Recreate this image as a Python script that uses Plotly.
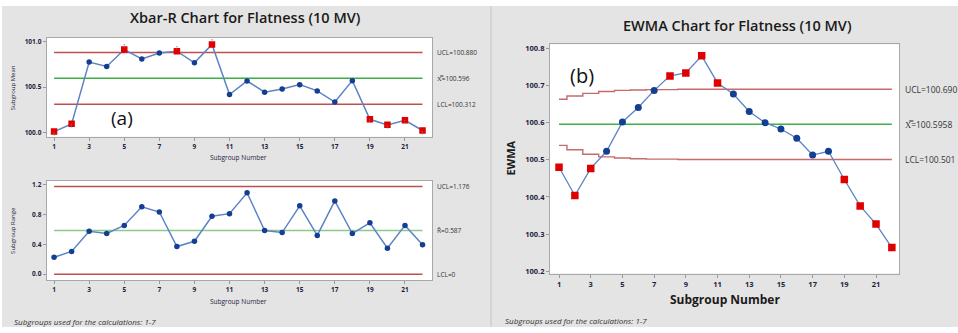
import plotly.graph_objects as go

# ---------------- data ----------------
subgroups = list(range(1, 23))
xbar = [100.01, 100.095, 100.775, 100.727, 100.913, 100.81, 100.876, 100.895, 100.767, 100.97,
        100.418, 100.567, 100.444, 100.48, 100.527, 100.458, 100.335, 100.571, 100.145, 100.084,
        100.135, 100.022]
xbar_ucl, xbar_cl, xbar_lcl = 100.880, 100.596, 100.312
xbar_flag = [1, 2, 5, 8, 10, 19, 20, 21, 22]

rng = [0.227, 0.305, 0.576, 0.545, 0.654, 0.903, 0.833, 0.371, 0.441, 0.777, 0.811, 1.091,
       0.585, 0.558, 0.916, 0.519, 0.982, 0.545, 0.689, 0.349, 0.654, 0.393]
r_ucl, r_cl, r_lcl = 1.176, 0.587, 0.0

ewma = [100.48, 100.404, 100.477, 100.523, 100.602, 100.641, 100.687, 100.726, 100.734, 100.780,
        100.707, 100.677, 100.630, 100.600, 100.583, 100.558, 100.513, 100.523, 100.447, 100.376,
        100.327, 100.264]
ewma_ucl = [100.663, 100.672, 100.679, 100.684, 100.687, 100.688, 100.689, 100.689, 100.690, 100.690,
            100.690, 100.690, 100.690, 100.690, 100.690, 100.690, 100.690, 100.690, 100.690, 100.690,
            100.690, 100.690]
ewma_lcl = [100.539, 100.527, 100.515, 100.508, 100.505, 100.503, 100.502, 100.502, 100.501, 100.501,
            100.501, 100.501, 100.501, 100.501, 100.501, 100.501, 100.501, 100.501, 100.501, 100.501,
            100.501, 100.501]
ewma_cl = 100.5958
ewma_flag = [1, 2, 3, 8, 9, 10, 11, 19, 20, 21, 22]

xticks = list(range(1, 22, 2))

# ---------------- style ----------------
W, H = 958, 333
def px(x): return x / W
def py(y): return 1 - y / H

RED = "#c0504d"
RED_L = "#c66a6a"
GREEN = "#3fae49"
GREEN_L = "#8cc98a"
LINE_BLUE = "#5b84c4"
DOT_BLUE = "#123f91"
SQ_RED = "#e00000"
BG = "#e4e4e4"
FONT = "Open Sans"
TXT = "#1e1e3c"

fig = go.Figure()

def marker_props(flags, n, csize=6, ssize=7):
    sym = ["square" if (i + 1) in flags else "circle" for i in range(n)]
    col = [SQ_RED if (i + 1) in flags else DOT_BLUE for i in range(n)]
    size = [ssize if (i + 1) in flags else csize for i in range(n)]
    return dict(symbol=sym, color=col, size=size, opacity=1, line=dict(width=0))

def hline(xa, ya, yv, color, width, x0=1, x1=22):
    fig.add_trace(go.Scatter(x=[x0, x1], y=[yv, yv], mode="lines",
                             line=dict(color=color, width=width), xaxis=xa, yaxis=ya,
                             hoverinfo="skip", showlegend=False))

# Xbar chart
hline("x", "y", xbar_ucl, RED, 1.5)
hline("x", "y", xbar_cl, GREEN, 1.5)
hline("x", "y", xbar_lcl, RED, 1.5)
fig.add_trace(go.Scatter(x=subgroups, y=xbar, mode="lines+markers",
                         line=dict(color=LINE_BLUE, width=1.5),
                         marker=marker_props(xbar_flag, len(xbar), 5.5, 6.5),
                         xaxis="x", yaxis="y", showlegend=False))
# small test labels on flagged points
fx = [s for s in subgroups if s in xbar_flag]
fy = [xbar[s - 1] for s in fx]
fpos = ["top center" if v > xbar_cl else "bottom center" for v in fy]
fig.add_trace(go.Scatter(x=fx, y=fy, mode="text", text=["1"] * len(fx), textposition=fpos,
                         textfont=dict(size=5.5, color="#777"), xaxis="x", yaxis="y",
                         showlegend=False, hoverinfo="skip"))

# R chart
hline("x2", "y2", r_ucl, RED, 1.5)
hline("x2", "y2", r_cl, GREEN_L, 1.5)
hline("x2", "y2", r_lcl, RED, 1.5)
fig.add_trace(go.Scatter(x=subgroups, y=rng, mode="lines+markers",
                         line=dict(color=LINE_BLUE, width=1.5),
                         marker=dict(color=DOT_BLUE, size=5.5),
                         xaxis="x2", yaxis="y2", showlegend=False))

# EWMA chart
fig.add_trace(go.Scatter(x=subgroups, y=ewma_ucl, mode="lines", line=dict(color=RED_L, width=1.4, shape="hvh"),
                         xaxis="x3", yaxis="y3", showlegend=False, hoverinfo="skip"))
fig.add_trace(go.Scatter(x=subgroups, y=ewma_lcl, mode="lines", line=dict(color=RED_L, width=1.4, shape="hvh"),
                         xaxis="x3", yaxis="y3", showlegend=False, hoverinfo="skip"))
hline("x3", "y3", ewma_cl, GREEN, 1.3)
fig.add_trace(go.Scatter(x=subgroups, y=ewma, mode="lines+markers",
                         line=dict(color=LINE_BLUE, width=1.3),
                         marker=marker_props(ewma_flag, len(ewma), 7, 7.5),
                         xaxis="x3", yaxis="y3", showlegend=False))

# ---------------- axes ----------------
def xax(domain, rng_, fsize, anchor):
    return dict(domain=domain, range=rng_, anchor=anchor, tickvals=xticks, ticks="outside",
                ticklen=3, tickcolor="#999", showline=True, mirror=True, linecolor="#a8a8a8",
                linewidth=1, showgrid=False, zeroline=False,
                tickfont=dict(family=FONT, size=fsize, color=TXT, weight="bold"))

def yax(domain, rng_, tv, tt, fsize, anchor):
    return dict(domain=domain, range=rng_, anchor=anchor, tickvals=tv, ticktext=tt, ticks="outside",
                ticklen=3, tickcolor="#999", showline=True, mirror=True, linecolor="#a8a8a8",
                linewidth=1, showgrid=False, zeroline=False,
                tickfont=dict(family=FONT, size=fsize, color=TXT, weight="bold"))

left_dom = [px(46.7), px(432)]
fig.update_layout(
    xaxis=xax(left_dom, [0.58, 22.54], 6.5, "y"),
    yaxis=yax([py(137), py(37)], [99.953, 101.044], [100.0, 100.5, 101.0],
              ["100.0", "100.5", "101.0"], 6.5, "x"),
    xaxis2=xax(left_dom, [0.58, 22.54], 6.5, "y2"),
    yaxis2=yax([py(281.7), py(181.7)], [-0.08, 1.248], [0.0, 0.4, 0.8, 1.2],
               ["0.0", "0.4", "0.8", "1.2"], 6.5, "x2"),
    xaxis3=xax([px(550), px(899)], [0.43, 22.45], 7.5, "y3"),
    yaxis3=yax([py(275), py(43.7)], [100.194, 100.811],
               [100.2, 100.3, 100.4, 100.5, 100.6, 100.7, 100.8],
               ["100.2", "100.3", "100.4", "100.5", "100.6", "100.7", "100.8"], 7.5, "x3"),
)

# ---------------- background shapes ----------------
shapes = [
    dict(type="rect", xref="paper", yref="paper", x0=px(2), x1=1, y0=py(329), y1=py(5),
         fillcolor=BG, line=dict(width=0), layer="below"),
    dict(type="line", xref="paper", yref="paper", x0=px(491), x1=px(491), y0=py(329), y1=py(5),
         line=dict(color="#cfcfcf", width=1.5), layer="below"),
]
for (x0, x1, y0, y1) in [(46.7, 432, 37, 137), (46.7, 432, 181.7, 281.7), (550, 899, 43.7, 275)]:
    shapes.append(dict(type="rect", xref="paper", yref="paper", x0=px(x0), x1=px(x1),
                       y0=py(y1), y1=py(y0), fillcolor="white", line=dict(width=0), layer="below"))

# ---------------- annotations ----------------
ann = []
def note(text, x, y, size, xanchor="center", weight="normal", style="normal", textangle=0,
         yref="paper", color=TXT):
    ann.append(dict(text=text, x=px(x), y=(py(y) if yref == "paper" else y), xref="paper", yref=yref,
                    xanchor=xanchor, yanchor="middle", showarrow=False, textangle=textangle,
                    font=dict(family=FONT, size=size, color=color, weight=weight, style=style)))

note("Xbar-R Chart for Flatness (10 MV)", 245, 17, 14.5, weight=600, color="#1a1a1a")
note("EWMA Chart for Flatness (10 MV)", 737, 25, 14.5, weight=600, color="#1a1a1a")
note("Subgroup Mean", 13, 88, 6, textangle=-90)
note("Subgroup Range", 13, 232, 6, textangle=-90)
note("Subgroup Number", 238, 158, 6.5)
note("Subgroup Number", 238, 303, 6.5)
note("Subgroups used for the calculations: 1-7", 12, 323, 8, xanchor="left", style="italic", color="#333")
note("Subgroups used for the calculations: 1-7", 503, 322, 8, xanchor="left", style="italic", color="#333")
note("EWMA", 511, 158, 11, weight="bold", textangle=-90, color="#1a1a1a")
note("Subgroup Number", 725, 301, 12, weight="bold", color="#1a1a1a")
note("(a)", 122, 118, 19, color="#111")
note("(b)", 582, 75, 20, color="#111")

# left control-limit labels
for txt, v, ya in [("UCL=100.880", xbar_ucl, "y"), ("X̿=100.596", xbar_cl, "y"),
                   ("LCL=100.312", xbar_lcl, "y"), ("UCL=1.176", r_ucl, "y2"),
                   ("R̄=0.587", r_cl, "y2"), ("LCL=0", r_lcl, "y2")]:
    note(txt, 435, v, 6.5, xanchor="left", yref=ya, color="#333")
# right control-limit labels
for txt, v in [("UCL=100.690", ewma_ucl[-1]), ("X̿=100.5958", ewma_cl), ("LCL=100.501", ewma_lcl[-1])]:
    note(txt, 903, v, 8.5, xanchor="left", yref="y3", color="#333")

fig.update_layout(width=W, height=H, margin=dict(l=0, r=0, t=0, b=0),
                  paper_bgcolor="white", plot_bgcolor="rgba(0,0,0,0)",
                  shapes=shapes, annotations=ann, showlegend=False)

fig.write_html("out.html")
